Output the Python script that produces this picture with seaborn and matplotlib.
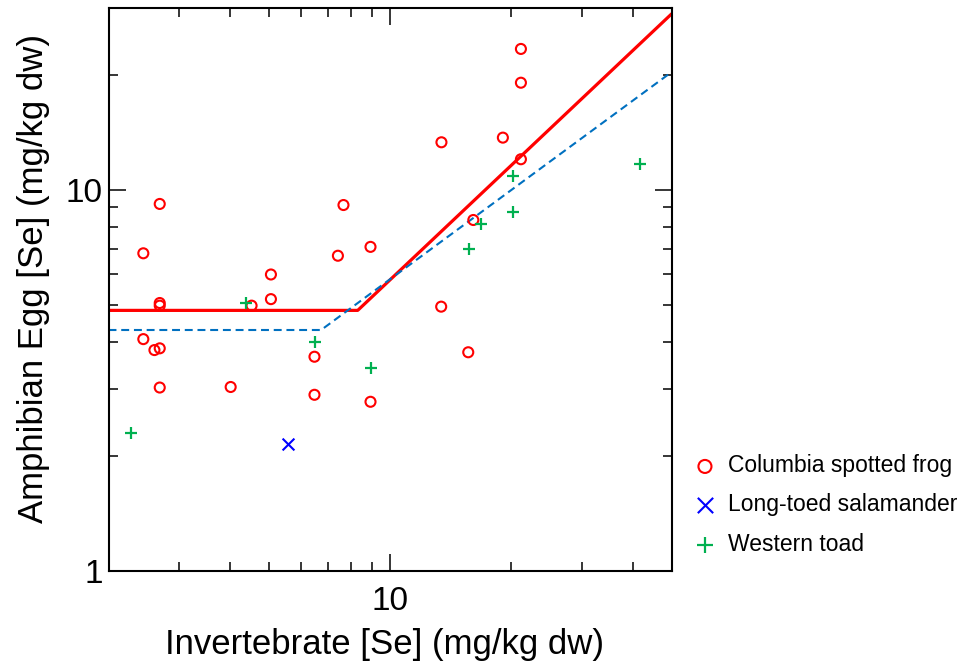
import numpy as np
import pandas as pd
import matplotlib
matplotlib.use("Agg")
import matplotlib.pyplot as plt
import seaborn as sns
from matplotlib.ticker import LogLocator, NullFormatter, FixedLocator, FixedFormatter

# ---- data ----
frog_x = [2.44, 2.68, 2.68, 2.68, 2.44, 2.60, 2.68, 2.68, 4.02, 4.53, 5.06, 5.06,
          6.49, 6.49, 7.42, 7.66, 8.94, 8.94, 13.41, 13.39, 15.63, 16.09, 19.05,
          21.12, 21.12, 21.12]
frog_y = [6.82, 9.19, 5.05, 4.97, 4.06, 3.80, 3.84, 3.03, 3.04, 4.97, 5.17, 6.00,
          3.65, 2.90, 6.72, 9.13, 7.09, 2.78, 13.34, 4.94, 3.75, 8.34, 13.72,
          23.45, 19.12, 12.04]
sal_x = [5.58]
sal_y = [2.16]
toad_x = [2.28, 4.38, 6.52, 8.98, 15.68, 16.84, 20.17, 20.17, 41.8]
toad_y = [2.30, 5.04, 4.00, 3.40, 7.01, 8.16, 8.74, 10.88, 11.68]

red_fit_x = [2.0, 8.31, 50.0]
red_fit_y = [4.83, 4.83, 29.0]
blue_fit_x = [2.0, 6.74, 50.0]
blue_fit_y = [4.29, 4.29, 20.4]

labels = ["Columbia spotted frog", "Long-toed salamander", "Western toad"]
x_label = "Invertebrate [Se] (mg/kg dw)"
y_label = "Amphibian Egg [Se] (mg/kg dw)"

# ---- style ----
sns.set_theme(style="ticks")
plt.rcParams['font.family'] = ['Liberation Sans', 'DejaVu Sans']
plt.rcParams['axes.linewidth'] = 1.5

fig = plt.figure(figsize=(9.63, 6.65), dpi=100)
ax = fig.add_axes([0.1127, 0.1414, 0.5848, 0.8463])
ax.set_xscale('log')
ax.set_yscale('log')

sns.lineplot(x=red_fit_x, y=red_fit_y, ax=ax, color='#FF0000', lw=2.3,
             estimator=None, sort=False, legend=False)
sns.lineplot(x=blue_fit_x, y=blue_fit_y, ax=ax, color='#0070C0', lw=1.5,
             estimator=None, sort=False, legend=False, dashes=False)
ax.lines[1].set_dashes([3.8, 2.3])

sns.scatterplot(x=frog_x, y=frog_y, ax=ax, marker='o', s=52,
                facecolors='none', edgecolor='#FF0000', linewidth=1.5,
                label=labels[0], zorder=5)
sns.scatterplot(x=sal_x, y=sal_y, ax=ax, marker='x', s=72,
                color='#0000FF', linewidth=1.5, label=labels[1], zorder=5)
sns.scatterplot(x=toad_x, y=toad_y, ax=ax, marker='+', s=75,
                color='#00B050', linewidth=1.6, label=labels[2], zorder=5)

ax.set_xlim(2, 50)
ax.set_ylim(1, 30)

ax.xaxis.set_major_locator(FixedLocator([10]))
ax.xaxis.set_major_formatter(FixedFormatter(["10"]))
ax.xaxis.set_minor_locator(LogLocator(base=10, subs=np.arange(2, 10)))
ax.xaxis.set_minor_formatter(NullFormatter())
ax.yaxis.set_major_locator(FixedLocator([1, 10]))
ax.yaxis.set_major_formatter(FixedFormatter(["1", "10"]))
ax.yaxis.set_minor_locator(LogLocator(base=10, subs=np.arange(2, 10)))
ax.yaxis.set_minor_formatter(NullFormatter())

ax.tick_params(which='both', direction='in', top=True, right=True,
               color='black', width=1.1, labelsize=24, labelcolor='black')
ax.tick_params(which='major', length=12.5)
ax.tick_params(which='minor', length=6.5)
ax.tick_params(axis='x', which='major', pad=11)
ax.tick_params(axis='y', which='major', pad=4)
for sp in ax.spines.values():
    sp.set_color('black')
    sp.set_linewidth(1.5)

ax.set_xlabel(x_label, fontsize=25, color='black')
ax.set_ylabel(y_label, fontsize=25, color='black')
ax.xaxis.set_label_coords(0.49, -0.101)
ax.yaxis.set_label_coords(-0.104, 0.52)

leg = ax.legend(loc='center left', bbox_to_anchor=(693.5 / 963, 1 - 505 / 665),
                bbox_transform=fig.transFigure, frameon=False, fontsize=16.5,
                handlelength=1.0, handletextpad=0.5, labelspacing=0.7,
                borderpad=0, borderaxespad=0, markerscale=1.3)
for t in leg.get_texts():
    t.set_color('black')

fig.savefig("out.png", dpi=100, facecolor='white')
